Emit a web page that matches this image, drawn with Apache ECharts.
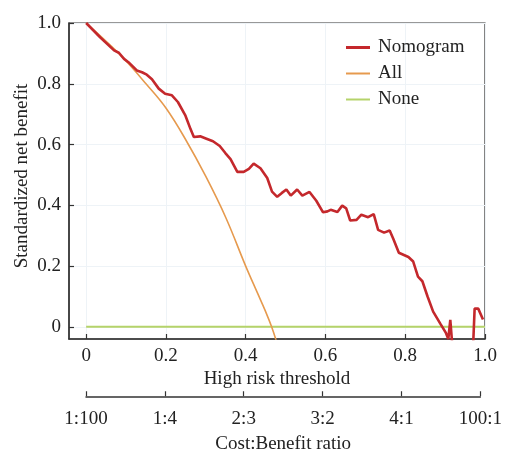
<!DOCTYPE html>
<html>
<head>
<meta charset="utf-8">
<script src="https://cdn.jsdelivr.net/npm/echarts@6/dist/echarts.min.js"></script>
<style>html,body{margin:0;padding:0;background:#fff;}#c{width:505px;height:450px;}</style>
</head>
<body>
<div id="c"></div>
<script>
// Data
const nomogramX = [0, 0.035, 0.07, 0.082, 0.095, 0.106, 0.127, 0.14, 0.152, 0.165, 0.182, 0.198, 0.215, 0.23, 0.249, 0.262, 0.27, 0.286, 0.30, 0.318, 0.335, 0.349, 0.362, 0.379, 0.395, 0.408, 0.42, 0.437, 0.454, 0.466, 0.479, 0.49, 0.502, 0.513, 0.529, 0.542, 0.56, 0.577, 0.594, 0.605, 0.613, 0.63, 0.642, 0.652, 0.662, 0.678, 0.69, 0.707, 0.721, 0.732, 0.747, 0.761, 0.77, 0.784, 0.808, 0.82, 0.832, 0.843, 0.856, 0.87, 0.889, 0.902, 0.908, 0.913, 0.918, 0.93, 0.95, 0.969, 0.974, 0.983, 0.995];
const nomogramY = [1.0, 0.953, 0.91, 0.902, 0.882, 0.871, 0.844, 0.838, 0.83, 0.815, 0.784, 0.767, 0.762, 0.74, 0.695, 0.65, 0.625, 0.627, 0.62, 0.611, 0.595, 0.572, 0.552, 0.51, 0.51, 0.52, 0.537, 0.522, 0.49, 0.445, 0.428, 0.44, 0.452, 0.432, 0.452, 0.432, 0.444, 0.415, 0.377, 0.38, 0.385, 0.378, 0.399, 0.39, 0.35, 0.352, 0.369, 0.361, 0.371, 0.319, 0.31, 0.317, 0.29, 0.244, 0.23, 0.215, 0.165, 0.15, 0.10, 0.05, 0.008, -0.02, -0.04, 0.023, -0.06, -0.2, -0.2, -0.1, 0.06, 0.06, 0.024];
const allX = [0, 0.05, 0.1, 0.15, 0.2, 0.25, 0.3, 0.35, 0.4, 0.43, 0.45, 0.465, 0.48];
const allY = [1.0, 0.94, 0.875, 0.80, 0.72, 0.615, 0.495, 0.36, 0.20, 0.11, 0.05, 0.0, -0.06];
const noneX = [0, 1.0];
const noneY = [0, 0];
const thresholdTicks = [0, 0.2, 0.4, 0.6, 0.8, 1.0];
const benefitTicks = [0, 0.2, 0.4, 0.6, 0.8, 1.0];
const costBenefitLabels = ['1:100', '1:4', '2:3', '3:2', '4:1', '100:1'];
const seriesNames = ['Nomogram', 'All', 'None'];

const zip = (xs, ys) => xs.map((x, i) => [x, ys[i]]);
const FONT = "'Liberation Serif', 'Times New Roman', serif";
const FS = 19;
const AX = '#333';
const COLORS = ['#c4282c', '#e69a4e', '#b5d36a'];

const chart = echarts.init(document.getElementById('c'), null, {renderer: 'canvas'});
chart.setOption({
  animation: false,
  backgroundColor: '#fff',
  textStyle: {fontFamily: FONT},
  legend: {
    orient: 'vertical', left: 341, top: 33,
    itemWidth: 24, itemHeight: 14, itemGap: 7,
    textStyle: {fontFamily: FONT, fontSize: FS, color: '#222', padding: [0, 0, 0, 3]},
    data: [
      {name: seriesNames[0], icon: 'path://M0,5.5 L24,5.5 L24,8.5 L0,8.5 Z', itemStyle: {color: COLORS[0]}},
      {name: seriesNames[1], icon: 'path://M0,6 L24,6 L24,8 L0,8 Z', itemStyle: {color: COLORS[1]}},
      {name: seriesNames[2], icon: 'path://M0,6 L24,6 L24,8 L0,8 Z', itemStyle: {color: COLORS[2]}}
    ]
  },
  grid: [
    {left: 69, right: 20, top: 23, bottom: 111, show: true, borderColor: AX, borderWidth: 1.2, backgroundColor: 'transparent'},
    {left: 86, width: 398, top: 395, height: 5, show: false}
  ],
  xAxis: [
    {
      type: 'value', gridIndex: 0, min: -0.043, max: 1.0,
      name: 'High risk threshold', nameLocation: 'middle', nameGap: 31, nameMoveOverlap: false,
      nameTextStyle: {fontFamily: FONT, fontSize: FS, color: '#222'},
      axisLine: {show: true, onZero: false, lineStyle: {color: AX, width: 1.5}},
      axisTick: {show: true, inside: true, length: 5, customValues: thresholdTicks, lineStyle: {color: AX, width: 1.2}},
      axisLabel: {customValues: thresholdTicks, margin: 8, fontFamily: FONT, fontSize: FS, color: '#222',
        formatter: v => v === 0 ? '0' : v.toFixed(1)},
      splitLine: {show: true, lineStyle: {color: '#eef3f7', width: 1}}
    },
    {
      type: 'value', gridIndex: 1, min: 0, max: 1.0, position: 'bottom',
      name: 'Cost:Benefit ratio', nameLocation: 'middle', nameGap: 38, nameMoveOverlap: false,
      nameTextStyle: {fontFamily: FONT, fontSize: FS, color: '#222'},
      axisLine: {show: true, onZero: false, lineStyle: {color: AX, width: 1.5}},
      axisTick: {show: true, inside: true, length: 5, customValues: thresholdTicks, lineStyle: {color: AX, width: 1.2}},
      axisLabel: {customValues: thresholdTicks, margin: 13, fontFamily: FONT, fontSize: FS, color: '#222',
        formatter: v => {
          const i = thresholdTicks.findIndex(t => Math.abs(t - v) < 1e-6);
          return i >= 0 ? costBenefitLabels[i] : '';
        }},
      splitLine: {show: false}
    }
  ],
  yAxis: [
    {
      type: 'value', gridIndex: 0, min: -0.04, max: 1.0,
      name: 'Standardized net benefit', nameLocation: 'middle', nameGap: 37, nameMoveOverlap: false,
      nameTextStyle: {fontFamily: FONT, fontSize: FS, color: '#222', padding: [0, 0, 0, 10]},
      axisLine: {show: true, onZero: false, lineStyle: {color: AX, width: 1.5}},
      axisTick: {show: true, inside: true, length: 5, customValues: benefitTicks, lineStyle: {color: AX, width: 1.2}},
      axisLabel: {customValues: benefitTicks, margin: 8, fontFamily: FONT, fontSize: FS, color: '#222',
        formatter: v => v === 0 ? '0' : v.toFixed(1)},
      splitLine: {show: true, lineStyle: {color: '#eef3f7', width: 1}}
    },
    {type: 'value', gridIndex: 1, show: false, min: 0, max: 1}
  ],
  series: [
    {
      name: seriesNames[0], type: 'line', xAxisIndex: 0, yAxisIndex: 0,
      data: zip(nomogramX, nomogramY), symbol: 'none', clip: true, z: 5,
      lineStyle: {color: COLORS[0], width: 2.6}, itemStyle: {color: COLORS[0]}
    },
    {
      name: seriesNames[1], type: 'line', xAxisIndex: 0, yAxisIndex: 0,
      data: zip(allX, allY), symbol: 'none', clip: true, smooth: 0.4, z: 4,
      lineStyle: {color: COLORS[1], width: 1.6}, itemStyle: {color: COLORS[1]}
    },
    {
      name: seriesNames[2], type: 'line', xAxisIndex: 0, yAxisIndex: 0,
      data: zip(noneX, noneY), symbol: 'none', clip: true, z: 3,
      lineStyle: {color: COLORS[2], width: 2}, itemStyle: {color: COLORS[2]}
    }
  ]
});
</script>
</body>
</html>
